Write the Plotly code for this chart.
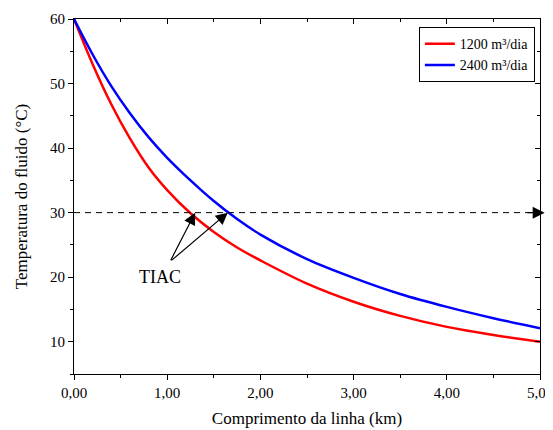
import plotly.graph_objects as go

# Data
x_1200 = [0.0, 0.2, 0.4, 0.6, 0.8, 1.0, 1.25, 1.5, 1.75, 2.0, 2.5, 3.0, 3.5, 4.0, 4.5, 5.0]
y_1200 = [60.0, 53.0, 46.8, 41.5, 37.0, 33.5, 29.9, 27.0, 24.6, 22.6, 19.0, 16.2, 14.0, 12.3, 11.05, 10.0]
x_2400 = [0.0, 0.2, 0.4, 0.6, 0.8, 1.0, 1.25, 1.5, 1.75, 2.0, 2.5, 3.0, 3.5, 4.0, 4.5, 5.0]
y_2400 = [60.0, 54.5, 49.6, 45.4, 41.7, 38.5, 35.0, 31.8, 29.0, 26.6, 22.8, 19.9, 17.4, 15.4, 13.65, 12.1]
names = ["1200 m³/dia", "2400 m³/dia"]
tiac_temp = 30.0
tiac_x = [1.30, 1.65]
x_ticks = [0, 1, 2, 3, 4, 5]
y_ticks = [10, 20, 30, 40, 50, 60]

FONT = "'Liberation Serif', 'Times New Roman', Times, serif"
fig = go.Figure()
fig.add_trace(go.Scatter(x=x_1200, y=y_1200, mode="lines", name=names[0],
                         line=dict(color="#ff0000", width=2.5, shape="spline", smoothing=1.0)))
fig.add_trace(go.Scatter(x=x_2400, y=y_2400, mode="lines", name=names[1],
                         line=dict(color="#0000ff", width=2.5, shape="spline", smoothing=1.0)))
fig.add_trace(go.Scatter(x=[0, 4.9], y=[tiac_temp, tiac_temp], mode="lines", showlegend=False,
                         hoverinfo="skip", line=dict(color="black", width=1, dash="6px,5px")))
# invisible trace to draw mirrored axes with inside ticks
fig.add_trace(go.Scatter(x=x_1200, y=y_1200, xaxis="x2", yaxis="y2", mode="lines",
                         opacity=0, showlegend=False, hoverinfo="skip"))

# arrow at the end of the dashed line
fig.add_annotation(x=5.05, y=tiac_temp, ax=4.85, ay=tiac_temp, xref="x", yref="y",
                   axref="x", ayref="y", showarrow=True, arrowhead=2, arrowsize=2.0,
                   arrowwidth=1.2, arrowcolor="black", text="")
# TIAC arrows
for xv in tiac_x:
    fig.add_annotation(x=xv, y=tiac_temp, ax=1.03, ay=22.4, xref="x", yref="y",
                       axref="x", ayref="y", showarrow=True, arrowhead=2, arrowsize=2.0,
                       arrowwidth=1.2, arrowcolor="black", text="")
fig.add_annotation(x=0.92, y=20.1, text="TIAC", showarrow=False, xref="x", yref="y",
                   font=dict(family=FONT, size=18, color="black"))

axis_common = dict(showgrid=False, zeroline=False, linecolor="black", linewidth=1.2,
                   tickcolor="black", tickwidth=1.2, showline=True, automargin=False)
fig.update_layout(
    width=545, height=422,
    margin=dict(l=66, r=13, t=11, b=56),
    plot_bgcolor="white", paper_bgcolor="white",
    separators=", ",
    font=dict(family=FONT, size=15, color="black"),
    xaxis=dict(range=[0, 5], tickvals=x_ticks, tickformat=".2f", ticks="outside", ticklen=5,
               ticklabeloverflow="allow",
               minor=dict(dtick=0.5, ticks="outside", ticklen=3, tickcolor="black", tickwidth=1.2),
               title=dict(text="Comprimento da linha (km)", font=dict(family=FONT, size=17), standoff=12),
               **axis_common),
    yaxis=dict(range=[5, 60], tickvals=y_ticks, ticks="outside", ticklen=5,
               minor=dict(dtick=5, ticks="outside", ticklen=3, tickcolor="black", tickwidth=1.2),
               title=dict(text="Temperatura do fluido (°C)", font=dict(family=FONT, size=17), standoff=17),
               **axis_common),
    xaxis2=dict(range=[0, 5], overlaying="x", side="top", tickvals=x_ticks, ticks="inside",
                ticklen=5, showticklabels=False,
                minor=dict(dtick=0.5, ticks="inside", ticklen=3, tickcolor="black", tickwidth=1.2),
                **axis_common),
    yaxis2=dict(range=[5, 60], overlaying="y", side="right", tickvals=y_ticks, ticks="inside",
                ticklen=5, showticklabels=False,
                minor=dict(dtick=5, ticks="inside", ticklen=3, tickcolor="black", tickwidth=1.2),
                **axis_common),
    legend=dict(x=0.989, y=0.977, xanchor="right", yanchor="top", bordercolor="black",
                borderwidth=1, bgcolor="white", font=dict(family=FONT, size=14),
                tracegroupgap=0, itemwidth=30),
    showlegend=True,
)
fig.write_html("out.html")
